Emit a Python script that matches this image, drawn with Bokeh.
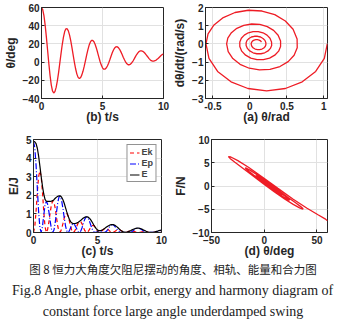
from bokeh.plotting import figure
from bokeh.models import Range1d, FixedTicker, Legend, LegendItem
from bokeh.layouts import column, row
from bokeh.core.properties import value
from bokeh.embed import file_html
from bokeh.resources import INLINE
import numpy as np

# ---------------- data ----------------
t_s = [round(0.1 * i, 1) for i in range(101)]

theta_deg = [
    60.0, 57.7, 51.0, 40.6, 27.5, 13.0, -1.5, -14.6, -25.0, -31.7,
    -34.0, -32.4, -27.8, -20.6, -11.5, -1.2, 9.4, 19.3, 27.5, 33.5,
    36.6, 36.7, 34.3, 29.7, 23.3, 15.6, 7.4, -0.5, -7.6, -13.2,
    -16.8, -18.0, -17.1, -14.3, -10.1, -4.7, 1.4, 7.7, 13.5, 18.4,
    21.9, 23.8, 23.8, 22.3, 19.3, 15.3, 10.5, 5.5, 0.7, -3.3,
    -6.3, -7.8, -7.8, -6.6, -4.3, -1.2, 2.5, 6.5, 10.2, 13.3,
    15.6, 16.8, 16.9, 15.9, 14.1, 11.5, 8.6, 5.4, 2.5, -0.1,
    -1.9, -2.9, -2.9, -2.2, -0.7, 1.2, 3.5, 6.0, 8.3, 10.2,
    11.7, 12.4, 12.4, 11.9, 10.8, 9.4, 7.6, 5.9, 4.1, 2.7,
    1.6, 1.1, 1.05, 1.5, 2.2, 3.3, 4.6, 5.9, 7.2, 8.3,
    9.0,
]

omega = [
    0.0, -0.796, -1.515, -2.085, -2.451, -2.577, -2.451, -2.085, -1.515, -0.796,
    0.0, 0.546, 1.044, 1.449, 1.726, 1.849, 1.807, 1.606, 1.261, 0.804,
    0.276, -0.214, -0.623, -0.976, -1.244, -1.400, -1.432, -1.337, -1.123, -0.808,
    -0.424, 0.0, 0.323, 0.617, 0.857, 1.021, 1.094, 1.069, 0.950, 0.746,
    0.476, 0.163, -0.137, -0.398, -0.620, -0.781, -0.866, -0.866, -0.781, -0.620,
    -0.398, -0.137, 0.107, 0.311, 0.484, 0.610, 0.677, 0.677, 0.610, 0.484,
    0.311, 0.107, -0.086, -0.249, -0.387, -0.488, -0.541, -0.541, -0.488, -0.387,
    -0.249, -0.086, 0.066, 0.193, 0.300, 0.379, 0.420, 0.420, 0.379, 0.300,
    0.193, 0.066, -0.049, -0.143, -0.223, -0.281, -0.311, -0.311, -0.281, -0.223,
    -0.143, -0.049, 0.036, 0.106, 0.165, 0.208, 0.230, 0.230, 0.208, 0.165,
    0.106,
]

Ek = [
    0.0, 0.317, 1.148, 2.174, 3.004, 3.320, 3.004, 2.174, 1.148, 0.317,
    0.0, 0.149, 0.545, 1.050, 1.490, 1.709, 1.633, 1.290, 0.795, 0.323,
    0.038, 0.023, 0.194, 0.476, 0.774, 0.980, 1.025, 0.894, 0.631, 0.326,
    0.090, 0.0, 0.052, 0.190, 0.367, 0.521, 0.598, 0.571, 0.451, 0.278,
    0.113, 0.013, 0.009, 0.079, 0.192, 0.305, 0.375, 0.375, 0.305, 0.192,
    0.079, 0.009, 0.006, 0.048, 0.117, 0.186, 0.229, 0.229, 0.186, 0.117,
    0.048, 0.006, 0.004, 0.031, 0.075, 0.119, 0.146, 0.146, 0.119, 0.075,
    0.031, 0.004, 0.002, 0.019, 0.045, 0.072, 0.088, 0.088, 0.072, 0.045,
    0.019, 0.002, 0.001, 0.010, 0.025, 0.039, 0.048, 0.048, 0.039, 0.025,
    0.010, 0.001, 0.001, 0.006, 0.014, 0.022, 0.026, 0.026, 0.022, 0.014,
    0.006,
]

Ep = [
    4.90, 4.56, 3.63, 2.36, 1.107, 0.251, 0.003, 0.317, 0.918, 1.462,
    1.676, 1.526, 1.131, 0.626, 0.197, 0.002, 0.132, 0.551, 1.107, 1.628,
    1.933, 1.942, 1.704, 1.288, 0.800, 0.361, 0.082, 0.000, 0.086, 0.259,
    0.418, 0.479, 0.433, 0.304, 0.152, 0.033, 0.003, 0.088, 0.271, 0.501,
    0.707, 0.833, 0.833, 0.733, 0.551, 0.347, 0.164, 0.045, 0.001, 0.016,
    0.059, 0.091, 0.091, 0.065, 0.028, 0.002, 0.009, 0.063, 0.155, 0.263,
    0.361, 0.418, 0.423, 0.375, 0.295, 0.197, 0.110, 0.044, 0.009, 0.000,
    0.005, 0.013, 0.013, 0.007, 0.001, 0.002, 0.018, 0.054, 0.103, 0.155,
    0.204, 0.230, 0.230, 0.211, 0.174, 0.132, 0.086, 0.052, 0.025, 0.011,
    0.004, 0.002, 0.002, 0.003, 0.007, 0.016, 0.032, 0.052, 0.077, 0.103,
    0.121,
]

E_tot = [
    4.90, 4.88, 4.78, 4.53, 4.11, 3.57, 3.01, 2.49, 2.07, 1.78,
    1.68, 1.675, 1.676, 1.676, 1.687, 1.711, 1.765, 1.841, 1.902, 1.951,
    1.971, 1.965, 1.898, 1.764, 1.574, 1.341, 1.107, 0.894, 0.717, 0.585,
    0.508, 0.479, 0.485, 0.494, 0.519, 0.554, 0.601, 0.659, 0.722, 0.779,
    0.820, 0.846, 0.842, 0.812, 0.743, 0.652, 0.539, 0.420, 0.306, 0.208,
    0.138, 0.100, 0.097, 0.113, 0.145, 0.188, 0.238, 0.292, 0.341, 0.380,
    0.409, 0.424, 0.427, 0.406, 0.370, 0.316, 0.256, 0.190, 0.128, 0.075,
    0.036, 0.016, 0.015, 0.026, 0.046, 0.074, 0.106, 0.142, 0.175, 0.200,
    0.223, 0.232, 0.231, 0.221, 0.199, 0.171, 0.134, 0.100, 0.064, 0.036,
    0.014, 0.003, 0.003, 0.009, 0.021, 0.038, 0.058, 0.078, 0.099, 0.117,
    0.127,
]

force = [
    -7.50, -7.06, -6.18, -4.79, -2.84, -0.51, 1.89, 3.97, 5.45, 6.24,
    6.32, 5.93, 5.11, 3.88, 2.32, 0.55, -1.23, -2.79, -3.96, -4.69,
    -4.97, -4.83, -4.38, -3.61, -2.56, -1.29, 0.08, 1.39, 2.52, 3.36,
    3.83, 3.90, 3.65, 3.11, 2.34, 1.39, 0.34, -0.72, -1.65, -2.39,
    -2.86, -3.06, -2.97, -2.66, -2.12, -1.43, -0.61, 0.23, 1.02, 1.64,
    2.08, 2.26, 2.18, 1.92, 1.48, 0.92, 0.27, -0.40, -1.00, -1.48,
    -1.80, -1.94, -1.89, -1.68, -1.35, -0.89, -0.39, 0.15, 0.62, 1.03,
    1.30, 1.42, 1.37, 1.21, 0.93, 0.58, 0.18, -0.24, -0.61, -0.91,
    -1.13, -1.20, -1.17, -1.06, -0.85, -0.60, -0.29, 0.00, 0.29, 0.51,
    0.67, 0.73, 0.71, 0.61, 0.48, 0.28, 0.05, -0.17, -0.38, -0.55,
    -0.65,
]

theta_rad = list(np.radians(theta_deg))

caption_lines = [
    "图 8 恒力大角度欠阻尼摆动的角度、相轨、能量和合力图",
    "Fig.8 Angle, phase orbit, energy and harmony diagram of",
    "constant force large angle underdamped swing",
]

RED = "#ee1c25"
AX = "#262626"
FONT = "Liberation Sans"


def make(w, h, xr, yr, bl, br, bt, bb):
    p = figure(width=w, height=h, x_range=Range1d(*xr), y_range=Range1d(*yr),
               output_backend="svg", toolbar_location=None,
               min_border_left=bl, min_border_right=br,
               min_border_top=bt, min_border_bottom=bb)
    p.outline_line_color = AX
    p.outline_line_width = 1
    p.grid.grid_line_color = "#e1e1e1"
    p.background_fill_color = "white"
    p.border_fill_color = "white"
    return p


def style(p, xticks, yticks, xlabel, ylabel, xover=None, yover=None):
    p.xaxis.ticker = FixedTicker(ticks=xticks)
    p.yaxis.ticker = FixedTicker(ticks=yticks)
    p.xgrid.ticker = FixedTicker(ticks=xticks)
    p.ygrid.ticker = FixedTicker(ticks=yticks)
    if xover:
        p.xaxis.major_label_overrides = xover
    if yover:
        p.yaxis.major_label_overrides = yover
    p.xaxis.axis_label = xlabel
    p.yaxis.axis_label = ylabel
    for ax in p.axis:
        ax.major_label_text_font = FONT
        ax.major_label_text_font_style = "bold"
        ax.major_label_text_font_size = "10px"
        ax.major_label_text_color = AX
        ax.axis_label_text_font = FONT
        ax.axis_label_text_font_style = "bold"
        ax.axis_label_text_font_size = "12px"
        ax.axis_label_text_color = AX
        ax.major_tick_in = 3
        ax.major_tick_out = 0
        ax.minor_tick_line_color = None
        ax.axis_line_color = AX
        ax.major_tick_line_color = AX
    p.xaxis.major_label_standoff = 3
    p.xaxis.axis_label_standoff = -3
    p.yaxis.major_label_standoff = 2
    p.yaxis.axis_label_standoff = 2


# (b) angle vs time
pb = make(170, 126, (0, 10), (-40, 60), 40, 7, 7, 27)
pb.line(t_s, theta_deg, line_color=RED, line_width=1.3)
style(pb, [0, 5, 10], [-40, -20, 0, 20, 40, 60], "(b) t/s", "θ/deg")

# (a) phase orbit
pa = make(175, 126, (-0.6, 1.05), (-3, 2), 34, 18, 7, 27)
pa.line(theta_rad, omega, line_color=RED, line_width=1.3)
style(pa, [-0.5, 0, 0.5, 1], [-3, -2, -1, 0, 1, 2], "(a) θ/rad", "dθ/dt/(rad/s)",
      xover={-0.5: "-0.5", 0: "0", 0.5: "0.5", 1: "1"})

# (c) energy
pc = make(170, 134, (0, 10), (0, 5), 33, 9, 13, 27)
r1 = pc.line(t_s, Ek, line_color="#ff0000", line_width=1.2, line_dash="4 3")
r2 = pc.line(t_s, Ep, line_color="#0000ff", line_width=1.2, line_dash="6 2 1 2")
r3 = pc.line(t_s, E_tot, line_color="black", line_width=1.2)
style(pc, [0, 5, 10], [0, 1, 2, 3, 4, 5], "(c) t/s", "E/J")
leg = Legend(items=[LegendItem(label="Ek", renderers=[r1]),
                    LegendItem(label="Ep", renderers=[r2]),
                    LegendItem(label="E", renderers=[r3])],
             location="top_right")
leg.label_text_font = FONT
leg.label_text_font_style = "bold"
leg.label_text_font_size = "9px"
leg.label_height = 9
leg.glyph_height = 9
leg.glyph_width = 10
leg.label_width = 10
leg.spacing = 1
leg.padding = 2
leg.margin = 5
leg.label_standoff = 2
leg.border_line_color = AX
leg.background_fill_alpha = 1
pc.add_layout(leg)

# (d) force vs angle
pd_ = make(175, 134, (-50, 60), (-10, 10), 32, 18, 13, 27)
pd_.line(theta_deg, force, line_color=RED, line_width=1.3)
style(pd_, [-50, 0, 50], [-10, -5, 0, 5, 10], "(d) θ/deg", "F/N")

# caption
cap = figure(width=345, height=65, x_range=Range1d(0, 345), y_range=Range1d(65, 0),
             output_backend="svg", toolbar_location=None,
             min_border_left=0, min_border_right=0, min_border_top=0, min_border_bottom=0)
cap.axis.visible = False
cap.grid.visible = False
cap.outline_line_color = None
cap.text(x=[172.5], y=[8], text=[caption_lines[0]], text_font=value("Noto Sans CJK SC"),
         text_font_size="11.5px", text_align="center", text_baseline="middle", text_color="#222222")
cap.text(x=[172.5, 172.5], y=[30, 51], text=caption_lines[1:], text_font=value("Liberation Serif"),
         text_font_size="14px", text_align="center", text_baseline="middle", text_color="#222222")

layout = column(row(pb, pa), row(pc, pd_), cap)
open("out.html", "w").write(file_html(layout, INLINE))
